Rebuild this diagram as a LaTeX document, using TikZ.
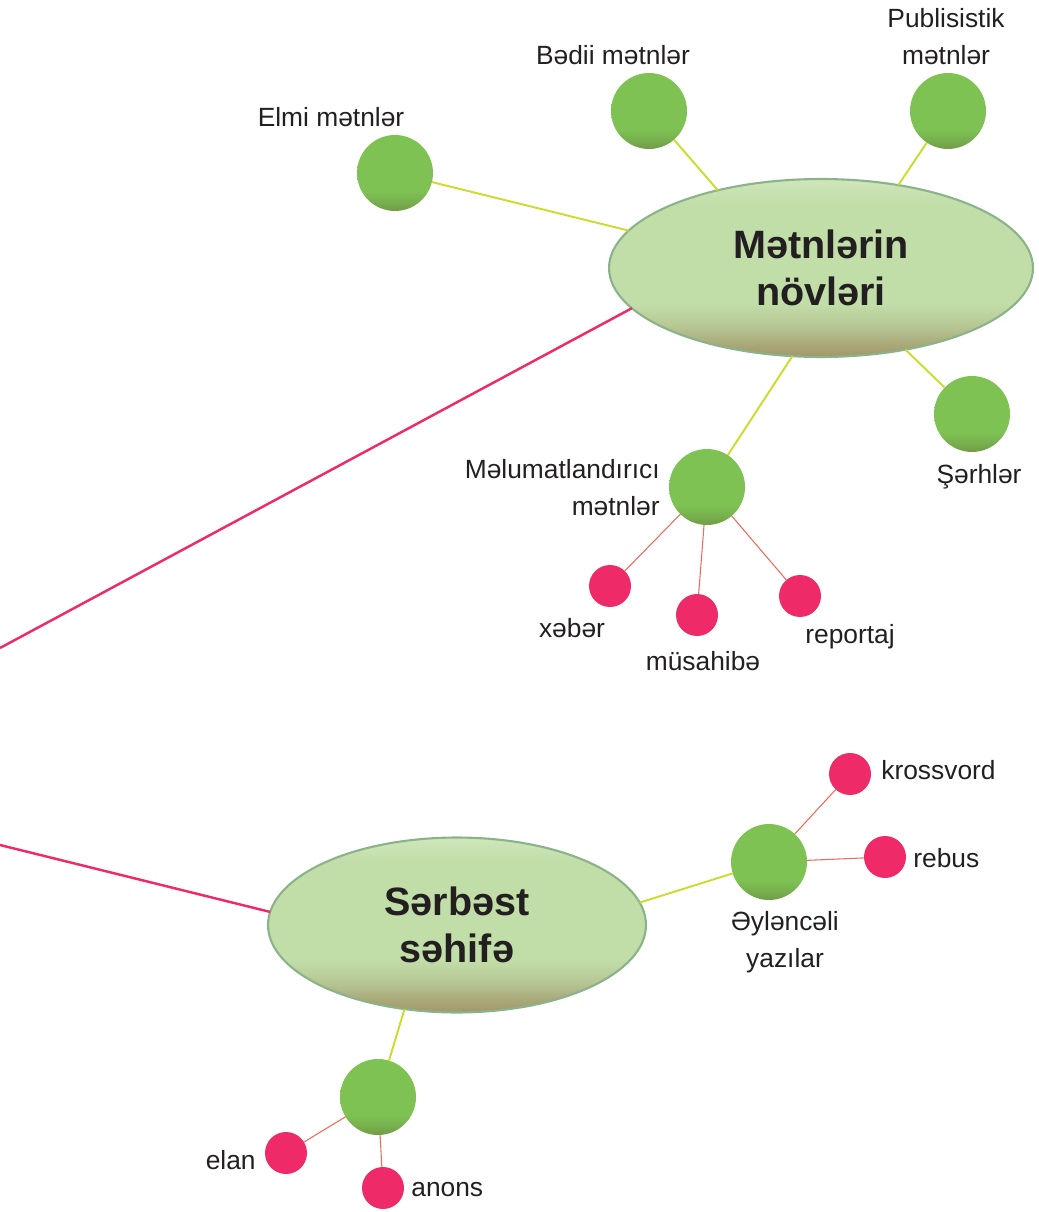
\documentclass[tikz,border=0pt]{standalone}
\usepackage{fontspec}
\setmainfont{Liberation Sans}
\usetikzlibrary{shapes.geometric}
\definecolor{ovaltop}{HTML}{CFE6BA}
\definecolor{ovalmid}{HTML}{C1DDA8}
\definecolor{ovalbot}{HTML}{A2976A}
\definecolor{ovalline}{HTML}{8BB38A}
\definecolor{leafgreen}{HTML}{7DC253}
\definecolor{leafdark}{HTML}{729C48}
\definecolor{berry}{HTML}{EE2A68}
\definecolor{lime}{HTML}{CDDC2C}
\definecolor{twigred}{HTML}{F0695A}
\definecolor{ink}{HTML}{231F20}
\pgfdeclareverticalshading{ovalshade}{100bp}{color(0bp)=(ovalbot); color(25bp)=(ovalbot); color(28bp)=(ovalbot!80!ovalmid); color(34bp)=(ovalbot!30!ovalmid); color(40bp)=(ovalmid); color(68bp)=(ovalmid); color(75bp)=(ovaltop); color(100bp)=(ovaltop)}
\pgfdeclareverticalshading{leafshade}{100bp}{color(0bp)=(leafdark); color(25bp)=(leafdark); color(31bp)=(leafdark!50!leafgreen); color(38bp)=(leafgreen); color(100bp)=(leafgreen)}

\begin{document}
\begin{tikzpicture}[x=0.02cm,y=-0.02cm]
    \tikzset{oval/.style = {ellipse,draw=ovalline,line width=1.2pt,shade,shading=ovalshade,inner sep=0pt,outer sep=0pt,align=center,text=ink,font=\fontsize{22.5}{26.5}\selectfont\bfseries}}
    \tikzset{leaf/.style = {circle,shade,shading=leafshade,minimum size=1.52cm,inner sep=0pt,outer sep=0pt}}
    \tikzset{bud/.style = {circle,fill=berry,minimum size=0.84cm,inner sep=0pt,outer sep=0pt}}
    \tikzset{tag/.style = {text=ink,inner sep=0pt,font=\fontsize{15}{21}\selectfont}}
    \tikzset{stem/.style = {draw=lime,line width=1.1pt}}
    \tikzset{vine/.style = {draw=berry,line width=1.4pt}}
    \tikzset{twig/.style = {draw=twigred,line width=0.6pt}}
    \useasboundingbox (0,0) rectangle (1038,1212);
    % ovals
    \node[oval,minimum width=8.48cm,minimum height=3.56cm] (novler) at (821,268) {M\char"0259tnl\char"0259rin\\n\"ovl\char"0259ri};
    \node[oval,minimum width=7.56cm,minimum height=3.5cm] (serbest) at (457,925) {S\char"0259rb\char"0259st\\s\char"0259hif\char"0259};
    \coordinate (edgeA) at (0,648);
    \coordinate (edgeB) at (0,845);
    \path[vine] (edgeA) -- (novler.192);
    \path[vine] (edgeB) -- (serbest.176);
%%%%%%%%%%%%%%%%%
    \node[leaf] (elmi) at (395,173) {};
    \node[leaf] (bedii) at (649,111) {};
    \node[leaf] (publ) at (948,111) {};
    \node[leaf] (serh) at (972,414) {};
    \node[leaf] (melum) at (707,487) {};
    \node[tag] (elmiT) at (331,117) {Elmi m\char"0259tnl\char"0259r};
    \node[tag] (bediiT) at (613,55) {B\char"0259dii m\char"0259tnl\char"0259r};
    \node[tag,align=center] (publT) at (946,37) {Publisistik\\m\char"0259tnl\char"0259r};
    \node[tag] (serhT) at (979,477) {\c{S}\char"0259rhl\char"0259r};
    \node[tag,align=right,anchor=east] (melumT) at (660,488) {M\char"0259lumatland\i r\i c\i\\m\char"0259tnl\char"0259r};
    \path[stem] (elmi) -- (novler.169);
    \path[stem] (bedii) -- (novler.143);
    \path[stem] (publ) -- (novler.47);
    \path[stem] (novler) -- (serh);
    \path[stem] (novler.252) -- (melum);
%%%%%%%%%%%%%%%%%
    \node[bud] (xeber) at (610,586) {};
    \node[bud] (musah) at (697,615) {};
    \node[bud] (report) at (800,596) {};
    \node[tag] (xeberT) at (572,628) {x\char"0259b\char"0259r};
    \node[tag] (musahT) at (703,661) {m\"usahib\char"0259};
    \node[tag] (reportT) at (850,637) {reportaj};
    \path[twig] (melum) -- (xeber);
    \path[twig] (melum) -- (musah);
    \path[twig] (melum) -- (report);
%%%%%%%%%%%%%%%%%
    \node[leaf] (eylen) at (769,862) {};
    \node[leaf] (elanlar) at (378,1097) {};
    \node[tag,align=center] (eylenT) at (785,942) {\char"018Fyl\char"0259nc\char"0259li\\yaz\i lar};
    \path[stem] (serbest.7) -- (eylen);
    \path[stem] (serbest.238) -- (elanlar);
    \node[bud] (kross) at (850,774) {};
    \node[bud] (rebus) at (885,857) {};
    \node[bud] (elan) at (286,1153) {};
    \node[bud] (anons) at (383,1188) {};
    \node[tag,anchor=west] (krossT) at (881,770) {krossvord};
    \node[tag,anchor=west] (rebusT) at (913,858) {rebus};
    \node[tag,anchor=east] (elanT) at (256,1160) {elan};
    \node[tag,anchor=west] (anonsT) at (411,1190) {anons};
    \path[twig] (eylen) -- (kross);
    \path[twig] (eylen) -- (rebus);
    \path[twig] (elanlar) -- (elan);
    \path[twig] (elanlar) -- (anons);
\end{tikzpicture}
\end{document}
